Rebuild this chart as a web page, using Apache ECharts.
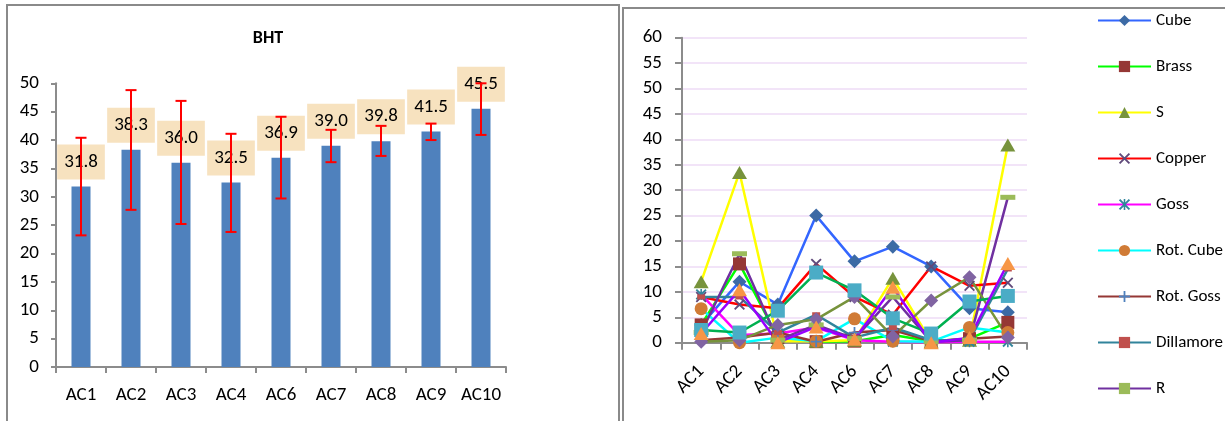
<!DOCTYPE html>
<html><head><meta charset="utf-8">
<script src="https://cdn.jsdelivr.net/npm/echarts@6/dist/echarts.min.js"></script>
<style>html,body{margin:0;padding:0;background:#fff;} #c{width:1225px;height:421px;}</style>
</head><body><div id="c"></div>
<script>
// ---- data ----
const categories = ['AC1','AC2','AC3','AC4','AC6','AC7','AC8','AC9','AC10'];
const bhtValues = [31.8, 38.3, 36.0, 32.5, 36.9, 39.0, 39.8, 41.5, 45.5];
const bhtErrLow = [23.2, 27.7, 25.2, 23.8, 29.7, 36.1, 37.2, 40.0, 40.9];
const bhtErrHigh = [40.4, 48.8, 46.9, 41.1, 44.1, 41.8, 42.5, 42.9, 50.0];
const bhtTicks = [0, 50, 5];      // min, max, step
const texTicks = [0, 60, 5];

const cube      = [3.5, 12.0, 7.5, 25.0, 16.0, 18.9, 15.0, 6.8, 6.0];
const brass     = [3.5, 15.5, 1.0, 0.2, 0.3, 1.5, 0.3, 0.8, 4.0];
const sComp     = [12.0, 33.5, 0.3, 0.3, 0.5, 12.7, 0.2, 0.5, 38.9];
const copper    = [9.0, 7.5, 6.8, 15.5, 9.0, 5.5, 15.0, 11.2, 11.8];
const goss      = [9.5, 1.5, 1.8, 3.0, 0.5, 0.2, 0.1, 0.2, 0.2];
const rotCube   = [6.7, 0.0, 1.0, 0.3, 4.7, 0.3, 0.2, 3.0, 2.0];
const rotGoss   = [0.5, 1.0, 2.0, 0.2, 2.0, 2.5, 0.3, 0.8, 1.2];
const dillamore = [9.0, 9.0, 2.0, 5.5, 1.0, 3.0, 0.5, 0.5, 14.5];
const rComp     = [2.0, 17.5, 0.5, 3.5, 0.8, 9.0, 0.2, 0.5, 28.6];
const pComp     = [0.2, 0.5, 3.5, 4.6, 9.0, 1.2, 8.3, 12.9, 1.0];
const qComp     = [2.5, 2.0, 6.3, 13.8, 10.3, 4.8, 1.8, 8.1, 9.2];
const cubeND    = [1.8, 10.4, 0.0, 3.1, 0.7, 10.9, 0.0, 1.0, 15.6];

const legendNames = ['Cube','Brass','S','Copper','Goss','Rot. Cube','Rot. Goss','Dillamore','R'];

// ---- styling ----
const FONT = "'Carlito','Liberation Sans',Arial,sans-serif";
const LEGFONT = "'Carlito','Liberation Sans Narrow','DejaVu Sans Condensed',sans-serif";
const AXC = '#8C8C8C';
const X_PATH = 'path://M0,1.2L1.2,0L5,3.8L8.8,0L10,1.2L6.2,5L10,8.8L8.8,10L5,6.2L1.2,10L0,8.8L3.8,5Z';
const STAR_PATH = 'path://M0,1.2L1.2,0L5,3.8L8.8,0L10,1.2L6.2,5L10,8.8L8.8,10L5,6.2L1.2,10L0,8.8L3.8,5Z M4.3,0L5.7,0L5.7,10L4.3,10Z';
const PLUS_PATH = 'path://M4.2,0H5.8V4.2H10V5.8H5.8V10H4.2V5.8H0V4.2H4.2Z';

function lineSeries(name, data, lineColor, markColor, symbol, size) {
  return {
    name, type: 'line', data, xAxisIndex: 1, yAxisIndex: 1,
    symbol, symbolSize: size, showAllSymbol: true,
    lineStyle: { color: lineColor, width: 2.5 },
    itemStyle: { color: markColor, borderWidth: 0 },
    emphasis: { disabled: true },
    animation: false
  };
}

const chart = echarts.init(document.getElementById('c'), null, { renderer: 'canvas' });
chart.setOption({
  animation: false,
  backgroundColor: '#fff',
  graphic: [
    { type: 'rect', shape: { x: 7, y: 5, width: 612, height: 500 }, style: { fill: 'none', stroke: '#8a8a8a', lineWidth: 2 } },
    { type: 'rect', shape: { x: 623, y: 8, width: 700, height: 500 }, style: { fill: 'none', stroke: '#8a8a8a', lineWidth: 2 } },
    { type: 'text', x: 268, y: 38, style: { text: 'BHT', font: 'bold 18px ' + FONT, fill: '#000', align: 'center', verticalAlign: 'middle' } }
  ],
  legend: {
    orient: 'vertical', left: 1092, top: 7,
    itemWidth: 53, itemHeight: 14, itemGap: 29,
    data: legendNames,
    textStyle: { fontFamily: LEGFONT, fontSize: 17, color: '#000' },
    selectedMode: false
  },
  grid: [
    { left: 56, right: 719, top: 83.3, bottom: 54 },
    { left: 682, right: 198, top: 37.7, bottom: 78.3 }
  ],
  xAxis: [
    { type: 'category', gridIndex: 0, data: categories,
      axisLine: { lineStyle: { color: AXC, width: 2 } },
      axisTick: { show: true, length: 6, lineStyle: { color: AXC, width: 2 } },
      axisLabel: { color: '#000', fontSize: 19, fontFamily: FONT, margin: 19, interval: 0 } },
    { type: 'category', gridIndex: 1, data: categories,
      axisLine: { lineStyle: { color: AXC, width: 2 } },
      axisTick: { show: true, length: 7, lineStyle: { color: AXC, width: 2 } },
      axisLabel: { color: '#000', fontSize: 19, fontFamily: FONT, rotate: 45, margin: 26, interval: 0 } }
  ],
  yAxis: [
    { type: 'value', gridIndex: 0, min: bhtTicks[0], max: bhtTicks[1], interval: bhtTicks[2],
      axisLine: { show: true, lineStyle: { color: AXC, width: 2 } },
      axisTick: { show: true, length: 5, lineStyle: { color: AXC, width: 2 } },
      splitLine: { show: false },
      axisLabel: { color: '#000', fontSize: 19, fontFamily: FONT, margin: 17 } },
    { type: 'value', gridIndex: 1, min: texTicks[0], max: texTicks[1], interval: texTicks[2],
      axisLine: { show: true, lineStyle: { color: AXC, width: 2 } },
      axisTick: { show: true, length: 7, lineStyle: { color: AXC, width: 2 } },
      splitLine: { show: true, lineStyle: { color: '#EEDBF6', width: 1.5 } },
      axisLabel: { color: '#000', fontSize: 19, fontFamily: FONT, margin: 20 } }
  ],
  series: [
    { name: 'BHT', type: 'bar', xAxisIndex: 0, yAxisIndex: 0, data: bhtValues, barWidth: 19, z: 2,
      itemStyle: { color: '#4F81BD' },
      label: { show: true, position: 'top', distance: 7, formatter: p => p.value.toFixed(1),
        color: '#000', fontSize: 19, fontFamily: FONT, backgroundColor: '#F7E2BF', padding: [8, 7] },
      emphasis: { disabled: true } },
    { name: 'err', type: 'custom', xAxisIndex: 0, yAxisIndex: 0, z: 10,
      data: categories.map((c, i) => [i, bhtErrLow[i], bhtErrHigh[i]]),
      encode: { x: 0, y: [1, 2] },
      renderItem: function (params, api) {
        const x = api.value(0);
        const lo = api.coord([x, api.value(1)]);
        const hi = api.coord([x, api.value(2)]);
        const w = 11;
        const st = { stroke: '#FF0000', lineWidth: 2 };
        return { type: 'group', children: [
          { type: 'line', shape: { x1: hi[0], y1: hi[1], x2: lo[0], y2: lo[1] }, style: st },
          { type: 'line', shape: { x1: hi[0] - w / 2, y1: hi[1], x2: hi[0] + w / 2, y2: hi[1] }, style: st },
          { type: 'line', shape: { x1: lo[0] - w / 2, y1: lo[1], x2: lo[0] + w / 2, y2: lo[1] }, style: st }
        ] };
      } },
    lineSeries('Cube', cube, '#3366FF', '#3C6AA5', 'diamond', 14),
    lineSeries('Brass', brass, '#00FF00', '#953735', 'rect', 13),
    lineSeries('S', sComp, '#FFFF00', '#77933C', 'triangle', [15, 13]),
    lineSeries('Copper', copper, '#FF0000', '#604A7B', X_PATH, 11),
    lineSeries('Goss', goss, '#FF00FF', '#31859C', STAR_PATH, 11),
    lineSeries('Rot. Cube', rotCube, '#00FFFF', '#D07B36', 'circle', 13),
    lineSeries('Rot. Goss', rotGoss, '#953735', '#4F81BD', PLUS_PATH, 11),
    lineSeries('Dillamore', dillamore, '#31849B', '#C0504D', 'rect', [8, 5]),
    lineSeries('R', rComp, '#7030A0', '#9BBB59', 'rect', [15, 5]),
    lineSeries('P', pComp, '#77933C', '#8064A2', 'diamond', 14),
    lineSeries('Q', qComp, '#00B050', '#4BACC6', 'rect', 14),
    lineSeries('CubeND', cubeND, '#9900FF', '#F79646', 'triangle', [15, 13])
  ]
});
</script>
</body></html>
